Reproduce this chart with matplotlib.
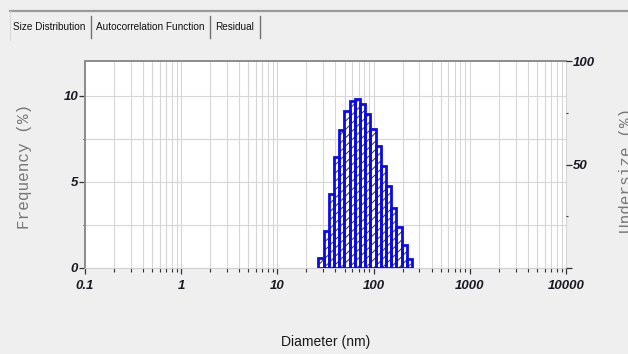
import matplotlib
matplotlib.use("Agg")
import matplotlib.pyplot as plt
import numpy as np
from matplotlib import font_manager
from matplotlib.ticker import FixedLocator, NullFormatter, LogLocator
from matplotlib.lines import Line2D

# ---- data ----
diameters_nm = [28.4, 32.2, 36.4, 41.3, 46.7, 52.9, 59.9, 67.9, 76.9,
                87.0, 98.6, 111.6, 126.4, 143.2, 162.1, 183.6, 207.9, 235.5]
frequency_pct = [0.56, 2.15, 4.27, 6.43, 8.01, 9.10, 9.68, 9.78, 9.51,
                 8.93, 8.04, 7.05, 5.94, 4.74, 3.50, 2.38, 1.33, 0.52]
x_tick_values = [0.1, 1, 10, 100, 1000, 10000]
x_tick_labels = ["0.1", "1", "10", "100", "1000", "10000"]
left_tick_values = [0, 5, 10]
right_tick_values = [50, 100]
tab_labels = ["Size Distribution", "Autocorrelation Function", "Residual"]

SANS = "Liberation Sans"
BG = "#efefef"
fig = plt.figure(figsize=(6.28, 3.54), dpi=100, facecolor=BG)

W, H = 628.0, 354.0
def fx(px): return px / W
def fy(py): return 1 - py / H

# ---- window chrome: tab strip ----
fig.add_artist(Line2D([fx(10), 1], [fy(11), fy(11)], color="#9a9a9a", lw=1.6))
fig.add_artist(Line2D([fx(10), fx(10)], [fy(11), fy(40)], color="#d8d8d8", lw=0.8))
tab_x = [49.5, 150, 235]
sep_x = [90.5, 209.5, 259.5]
for lab, tx in zip(tab_labels, tab_x):
    fig.text(fx(tx), fy(27), lab, fontsize=7.2, family=SANS, color="#111111",
             ha="center", va="center")
for sx in sep_x:
    fig.add_artist(Line2D([fx(sx), fx(sx)], [fy(16), fy(38)], color="#707070", lw=1.0))

# ---- main axes ----
ax = fig.add_axes([fx(85), fy(268), (566 - 85) / W, (268 - 61) / H])
ax.set_facecolor("white")
ax.set_xscale("log")
ax.set_xlim(0.1, 10000)
ax.set_ylim(0, 12)

d = np.array(diameters_nm)
r = (d[-1] / d[0]) ** (1 / (len(d) - 1))
left = d / np.sqrt(r)
width = d * np.sqrt(r) - left
plt.rcParams["hatch.linewidth"] = 0.7
plt.rcParams["hatch.color"] = "#303030"
ax.bar(left, frequency_pct, width=width, align="edge", color="white",
       edgecolor="#303030", linewidth=0, hatch="////", zorder=3)
ax.bar(left, frequency_pct, width=width, align="edge", fill=False,
       edgecolor="#0a0af0", linewidth=2.0, zorder=4)

# grid
ax.xaxis.set_major_locator(FixedLocator(x_tick_values))
ax.xaxis.set_minor_locator(LogLocator(base=10, subs=np.arange(2, 10), numticks=20))
ax.xaxis.set_minor_formatter(NullFormatter())
ax.set_xticklabels(x_tick_labels)
ax.yaxis.set_major_locator(FixedLocator(left_tick_values))
ax.yaxis.set_minor_locator(FixedLocator([2.5, 7.5]))
ax.grid(True, which="both", axis="x", color="#d6d6d6", lw=0.8, zorder=0)
for yv in [2.5, 5, 7.5, 10]:
    ax.axhline(yv, color="#d6d6d6", lw=0.8, zorder=0)
ax.set_axisbelow(True)

tickfont = dict(family=SANS, weight="bold", style="italic", size=9.5)
for lab in ax.get_xticklabels() + ax.get_yticklabels():
    lab.set_fontproperties(font_manager.FontProperties(**tickfont))
    lab.set_color("#1a1a24")
ax.tick_params(axis="x", which="major", direction="out", length=4.5, width=0.9,
               color="#333333", pad=4)
ax.tick_params(axis="x", which="minor", direction="out", length=3, width=0.8,
               color="#333333")
ax.tick_params(axis="y", which="major", direction="out", length=4, width=0.9,
               color="#333333", pad=1)
ax.tick_params(axis="y", which="minor", direction="out", length=1.5, width=0.8,
               color="#333333")

for s in ["left", "top"]:
    ax.spines[s].set_color("#8c8c8c")
    ax.spines[s].set_linewidth(1.4)
ax.spines["bottom"].set_color("#cfcfcf")
ax.spines["bottom"].set_linewidth(0.8)
ax.spines["right"].set_color("#d6d6d6")
ax.spines["right"].set_linewidth(0.8)

# right axis (undersize)
ax2 = ax.twinx()
ax2.set_ylim(0, 100)
ax2.yaxis.set_major_locator(FixedLocator(right_tick_values + [0]))
ax2.set_yticklabels(["50", "100", ""])
ax2.yaxis.set_minor_locator(FixedLocator([25, 75]))
for lab in ax2.get_yticklabels():
    lab.set_fontproperties(font_manager.FontProperties(**tickfont))
    lab.set_color("#1a1a24")
ax2.tick_params(axis="y", which="major", direction="out", length=4, width=0.9,
                color="#333333", pad=1)
ax2.tick_params(axis="y", which="minor", direction="out", length=1.5, width=0.8,
                color="#333333")
for s in ax2.spines.values():
    s.set_visible(False)

# labels
fig.text(fx(25), fy(166), "Frequency (%)", rotation=90, family="Liberation Mono",
         fontsize=11.5, color="#777777", ha="center", va="center")
fig.text(fx(627), fy(170), "Undersize (%)", rotation=90, family="Liberation Mono",
         fontsize=11.5, color="#777777", ha="center", va="center")
fig.text(fx(326), fy(342), "Diameter (nm)", family=SANS, fontsize=10,
         color="#1a1a1a", ha="center", va="center")

fig.savefig("out.png", dpi=100, facecolor=BG)
